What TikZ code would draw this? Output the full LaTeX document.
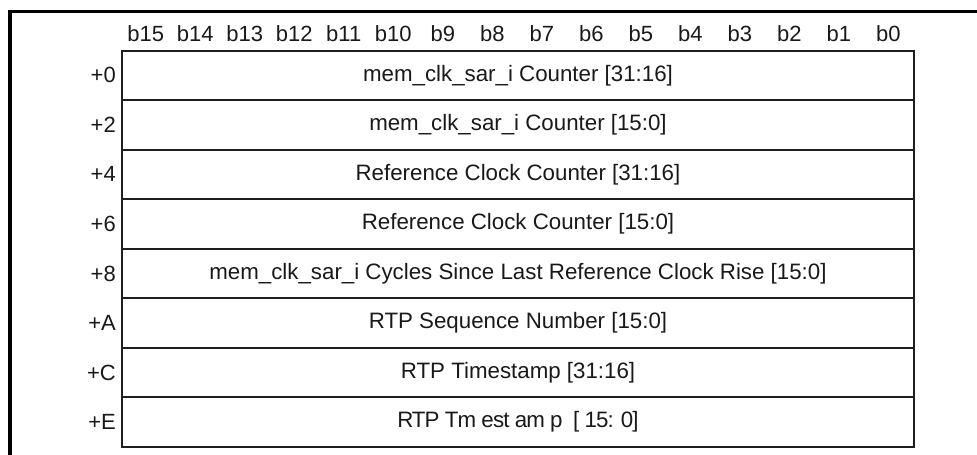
\documentclass[tikz,border=0pt]{standalone}
\usepackage{fontspec}
\setmainfont{Liberation Sans}
\newfontfamily\tightfont[LetterSpace=-4]{Liberation Sans}
\begin{document}
\begin{tikzpicture}[x=1pt,y=-1pt,
  lbl/.style={font=\fontsize{22}{26}\selectfont, inner sep=0pt, text=black!90},
  cell/.style={draw=black!88, line width=2pt, minimum width=792pt, minimum height=49.56pt,
    inner sep=0pt, anchor=north west, font=\fontsize{22.3}{27}\selectfont, text=black!90},
  frame/.style={line width=3.3pt, black}]
\useasboundingbox (0,0) rectangle (977,455);
\coordinate (fb) at (10,456);
\coordinate (fc) at (10,11.7);
\coordinate (fr) at (978,11.7);
\draw[frame] (fb) -- (fc) -- (fr);
% bit labels
\foreach \k in {0,...,15}{
  \pgfmathtruncatemacro{\bit}{15-\k}
  \node[lbl] (b\bit) at ({121+49.5*(\k+0.5)},34) {b\bit};
}
% rows
\node[cell] (r0) at (121,49.5) {mem\_clk\_sar\_i Counter [31:16]};
\node[cell] (r1) at (121,99.06) {mem\_clk\_sar\_i Counter [15:0]};
\node[cell] (r2) at (121,148.62) {Reference Clock Counter [31:16]};
\node[cell] (r3) at (121,198.18) {Reference Clock Counter [15:0]};
\node[cell] (r4) at (121,247.74) {mem\_clk\_sar\_i Cycles Since Last Reference Clock Rise [15:0]};
\node[cell] (r5) at (121,297.3) {RTP Sequence Number [15:0]};
\node[cell] (r6) at (121,346.86) {RTP Timestamp [31:16]};
\node[cell] (r7) at (121,396.42) {\tightfont\fontsize{22.3}{27}\selectfont R\kern-1.5pt TP~Tm est am p~~[ 15: 0]};
% offsets
\node[lbl, anchor=east] (o0) at ([xshift=-5pt]r0.west) {+0};
\node[lbl, anchor=east] (o1) at ([xshift=-5pt]r1.west) {+2};
\node[lbl, anchor=east] (o2) at ([xshift=-5pt]r2.west) {+4};
\node[lbl, anchor=east] (o3) at ([xshift=-5pt]r3.west) {+6};
\node[lbl, anchor=east] (o4) at ([xshift=-5pt]r4.west) {+8};
\node[lbl, anchor=east] (o5) at ([xshift=-5pt]r5.west) {+A};
\node[lbl, anchor=east] (o6) at ([xshift=-5pt]r6.west) {+C};
\node[lbl, anchor=east] (o7) at ([xshift=-5pt]r7.west) {+E};
\end{tikzpicture}
\end{document}
